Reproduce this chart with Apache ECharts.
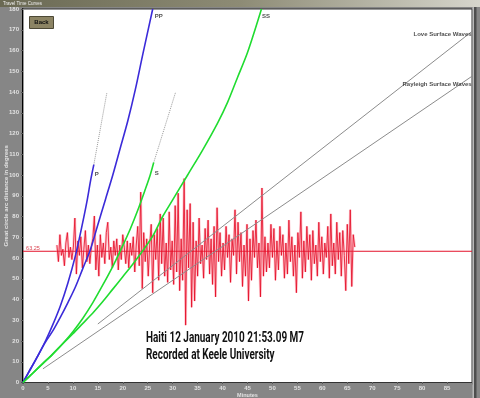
<!DOCTYPE html>
<html><head><meta charset="utf-8">
<script src="https://cdn.jsdelivr.net/npm/echarts@6/dist/echarts.min.js"></script>
<style>html,body{margin:0;padding:0;background:#868686;}#c{width:480px;height:398px;}</style>
</head><body><div id="c"></div>
<script>
// ---- data ----
const pTime  = [0, 1.5, 3, 4.5, 6, 7.5, 9, 10.5, 11.7, 12.8, 13.6, 14.2];
const pDist  = [0, 6.5, 13, 20, 28, 37, 48, 61, 74, 87, 98, 105];
const ppTime = [0, 1.5, 3, 4.5, 6, 7.5, 9, 10.5, 12, 13.5, 15, 16.5, 18, 19.5, 21, 22.5, 24, 26];
const ppDist = [0, 6.5, 13, 19.5, 25, 31.5, 38.5, 46, 55, 64, 76, 88, 100, 113, 126, 141, 158, 180];
const sTime  = [0, 2, 4, 6, 8, 10, 12, 14, 16, 18, 20, 21.5, 23, 24.5, 25.5, 26.2];
const sDist  = [0, 4.6, 9.2, 13.8, 18.8, 24.5, 31, 38.5, 47, 56, 66, 74, 83, 93, 100, 106];
const ssTime = [0, 2, 4, 6, 8, 10, 12, 14, 16, 18, 20, 22, 24, 26, 28, 30, 33, 36, 39, 41, 43, 45, 47.8];
const ssDist = [0, 4.6, 9.2, 13.8, 18.8, 23.5, 28.5, 33.5, 39, 45, 51, 57, 63.5, 70.5, 80, 88, 100, 112, 125, 135, 147, 159, 180];
const pExtTime = [14.2, 16.8];
const pExtDist = [105, 139.5];
const sExtTime = [26.2, 30.6];
const sExtDist = [106, 140];
const loveTime = [15, 90];
const loveDist = [28.2, 169.2];
const rayTime  = [4, 90];
const rayDist  = [6.6, 147.6];

const seisStart = 6.8;   // minutes
const seisStep  = 0.3;   // minutes per sample
const seisBase  = 63.25; // degrees
const seisDev = [
  3,-5,8,-2,1,-7,4,9,-3,2,
  -4,2,16,-11,5,-2,7,-8,1,10,
  -5,3,-6,2,6,17,-9,3,-12,8,
  -3,4,-6,9,14,-4,2,-8,5,-2,
  6,-9,3,-4,8,2,-6,5,-8,4,
  -2,7,-10,3,12,-7,28.5,-18,9,-5,
  6,-12,3,13,-20,8,-4,11,-14,18,
  -6,16,-12,4,-15,19,-9,5,-16,22,
  -10,28,-19,6,-14,35,-35.6,20,-8,23,
  -27,14,-24,5,-12,16,-6,3,-13,11,
  -4,15,-11,6,-16,12,-22,21,-5,9,
  -12,4,-9,12,-3,8,-15,6,-2,20,
  -11,14,-5,9,-17,3,-12,13,-24,6,
  -14,10,-3,15,-8,4,-22,30.5,-12,7,
  -10,4,-8,13,-3,11,-14,5,-9,12,
  -2,8,-13,4,-11,15,-5,7,-12,3,
  -20,9,-3,19,-13,5,-10,12,-4,8,
  -14,10,-6,3,-12,14,-5,7,-11,4,
  -3,12,-13,18,-7,4,-11,14,-4,9,
  -12,10,-2,-19,13,-6,20,-17,8,2
];

const waveLabels = ['P', 'PP', 'S', 'SS', 'Love Surface Waves', 'Rayleigh Surface Waves'];
const labelTime  = [14.8, 27.2, 26.8, 48.7, 84.1, 83.0];
const labelDist  = [100.3, 176.7, 101, 176.7, 167.7, 143.5];

const annotation = ['Haiti 12 January 2010 21:53.09 M7', 'Recorded at Keele University'];

// ---- build ----
const pairs = (t, d) => t.map((v, i) => [v, d[i]]);
const seis = seisDev.map((v, i) => [seisStart + i * seisStep, seisBase + v]);

const ctx = document.createElement('canvas').getContext('2d');
const annFont = 'bold 15px Roboto';
ctx.font = annFont;
const annScale1 = 158 / ctx.measureText(annotation[0]).width;

const chart = echarts.init(document.getElementById('c'), null, {renderer: 'canvas'});
const FF = '"Liberation Sans", Arial, sans-serif';
const lbl = {color: '#e2e2e2', fontSize: 6, fontFamily: FF, fontWeight: 'bold'};
const line = (data, color, width, extra) => Object.assign({
  type: 'line', data, symbol: 'none', silent: true,
  lineStyle: {color, width}
}, extra || {});

chart.setOption({
  animation: false,
  backgroundColor: '#868686',
  grid: {left: 23, right: 8, top: 9, bottom: 15.5, show: true, containLabel: false,
         outerBoundsMode: 'none',
         backgroundColor: '#ffffff', borderColor: '#333', borderWidth: 1},
  xAxis: [{
    type: 'value', min: 0, max: 90, interval: 5,
    axisLine: {lineStyle: {color: '#777', width: 1}},
    axisTick: {show: true, length: 2, lineStyle: {color: '#d8d8d8'}},
    axisLabel: Object.assign({margin: 3, showMaxLabel: false}, lbl),
    splitLine: {show: false},
    name: 'Minutes', nameLocation: 'middle', nameGap: 10, nameMoveOverlap: false,
    nameTextStyle: {color: '#e2e2e2', fontSize: 5.5, fontFamily: FF, fontWeight: 'bold'}
  }, {
    type: 'value', min: 0, max: 90, interval: 5, position: 'top',
    axisLine: {show: true, lineStyle: {color: '#333', width: 1}},
    axisTick: {show: true, inside: true, length: 2, lineStyle: {color: '#555'}},
    axisLabel: {show: false}, splitLine: {show: false}
  }],
  yAxis: [{
    type: 'value', min: 0, max: 180, interval: 10,
    axisLine: {show: true, lineStyle: {color: '#000', width: 2}},
    axisTick: {show: true, length: 2, lineStyle: {color: '#d8d8d8'}},
    axisLabel: Object.assign({margin: 4}, lbl),
    splitLine: {show: false},
    name: 'Great circle arc distance in degrees', nameLocation: 'middle', nameGap: 14,
    nameMoveOverlap: false,
    nameTextStyle: {color: '#e2e2e2', fontSize: 6, fontFamily: FF, fontWeight: 'bold'}
  }, {
    type: 'value', min: 0, max: 180, interval: 10, position: 'right',
    axisLine: {show: true, lineStyle: {color: '#999', width: 1}},
    axisTick: {show: true, inside: true, length: 2, lineStyle: {color: '#555'}},
    axisLabel: {show: false}, splitLine: {show: false}
  }],
  series: [
    line([[0, seisBase], [90, seisBase]], '#e3102a', 1, {z: 2}),
    line(seis, 'rgba(255,110,130,0.35)', 2.6, {z: 2}),
    line(seis, 'rgba(228,10,36,0.9)', 0.9, {z: 2}),
    line(pairs(loveTime, loveDist), '#8c8c8c', 1, {z: 3}),
    line(pairs(rayTime, rayDist), '#8c8c8c', 1, {z: 3}),
    line(pairs(pExtTime, pExtDist), '#9a9a9a', 1, {z: 3, lineStyle: {color: '#9a9a9a', width: 1, type: 'dotted'}}),
    line(pairs(sExtTime, sExtDist), '#9a9a9a', 1, {z: 3, lineStyle: {color: '#9a9a9a', width: 1, type: 'dotted'}}),
    line(pairs(pTime, pDist), '#3b2bd9', 1.6, {z: 4, smooth: 0.3}),
    line(pairs(ppTime, ppDist), '#3b2bd9', 1.6, {z: 4, smooth: 0.3}),
    line(pairs(sTime, sDist), '#20dc30', 1.6, {z: 4, smooth: 0.3}),
    line(pairs(ssTime, ssDist), '#20dc30', 1.6, {z: 4, smooth: 0.3}),
    {
      type: 'scatter', symbolSize: 0, silent: true, z: 5,
      data: waveLabels.map((n, i) => ({name: n, value: [labelTime[i], labelDist[i]]})),
      label: {show: true, position: 'inside', formatter: p => p.name,
              color: '#222', fontSize: 6, fontWeight: 'bold', fontFamily: FF}
    },
    {
      type: 'scatter', symbolSize: 0, silent: true, z: 5,
      data: [{name: '63.25', value: [2, 64.6]}],
      label: {show: true, position: 'inside', formatter: p => p.name,
              color: '#d01020', fontSize: 5.5, fontFamily: FF}
    }
  ],
  graphic: [
    {type: 'rect', shape: {x: 0, y: 0, width: 480, height: 7}, z: 10,
     style: {fill: new echarts.graphic.LinearGradient(0, 0, 1, 0, [
       {offset: 0, color: '#6a6953'}, {offset: 0.5, color: '#8d8b75'}, {offset: 1, color: '#d6d5cc'}])}},
    {type: 'text', x: 3, y: 3.5, z: 11,
     style: {text: 'Travel Time Curves', fill: '#f0f0f0', font: '4.5px "Liberation Sans"', verticalAlign: 'middle'}},
    {type: 'rect', shape: {x: 472.5, y: 7, width: 1.5, height: 391}, z: 10, style: {fill: '#b8b8b8'}},
    {type: 'rect', shape: {x: 474, y: 7, width: 2.5, height: 391}, z: 10, style: {fill: '#4e4e4e'}},
    {type: 'rect', shape: {x: 29.5, y: 16.5, width: 24, height: 12}, z: 10,
     style: {fill: '#8c8464', stroke: '#4d4936', lineWidth: 1}},
    {type: 'text', x: 41.5, y: 22.5, z: 11,
     style: {text: 'Back', fill: '#111', font: 'bold 6px "Liberation Sans"', align: 'center', verticalAlign: 'middle'}},
    {type: 'text', x: 146, y: 338.5, scaleX: annScale1, z: 11,
     style: {text: annotation[0], fill: '#111', font: annFont, align: 'left', verticalAlign: 'middle'}},
    {type: 'text', x: 146, y: 355.5, scaleX: annScale1, z: 11,
     style: {text: annotation[1], fill: '#111', font: annFont, align: 'left', verticalAlign: 'middle'}}
  ]
});
</script></body></html>
